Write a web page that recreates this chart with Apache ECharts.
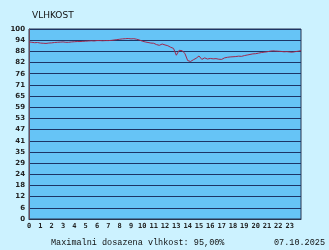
<!DOCTYPE html>
<html><head><meta charset="utf-8">
<script src="https://cdn.jsdelivr.net/npm/echarts@6/dist/echarts.min.js"></script>
<style>html,body{margin:0;padding:0;background:#ccf2ff;}#c{width:329px;height:250px;}</style>
</head><body><div id="c"></div>
<script>
var hours = [];
for (var i = 0; i <= 96; i++) hours.push(i / 4);
var humidity = [
93.2,93.0,92.8,92.9,92.6,92.5,92.4,92.6,92.7,92.9,93.0,93.1,
93.2,93.0,93.0,93.2,93.3,93.4,93.4,93.5,93.6,93.7,93.8,93.7,
93.9,93.9,93.8,93.9,93.9,94.0,94.2,94.4,94.6,94.8,94.9,95.0,
94.8,94.9,94.6,94.2,93.6,93.2,92.9,92.6,92.5,91.8,91.4,92.1,
91.6,91.2,90.4,89.8,86.2,88.8,88.6,87.2,83.4,82.9,83.8,84.6,
85.8,84.0,84.8,84.2,84.5,84.3,84.4,84.1,84.0,84.8,85.1,85.3,
85.4,85.5,85.7,85.6,86.0,86.3,86.6,86.9,87.0,87.3,87.6,87.8,
88.0,88.3,88.5,88.4,88.3,88.2,88.0,88.1,87.9,87.8,88.1,88.3,88.6];
var titleText = 'VLHKOST';
var footerText = 'Maximalni dosazena vlhkost: 95,00%';
var dateText = '07.10.2025';

var data = hours.map(function (h, i) { return [h, humidity[i]]; });
var chart = echarts.init(document.getElementById('c'));
chart.setOption({
  backgroundColor: '#ccf2ff',
  animation: false,
  title: { text: titleText, left: 27, top: 6, textStyle: { fontFamily: 'DejaVu Sans', fontSize: 9, fontWeight: 'normal', color: '#111' } },
  grid: { left: 29, right: 28, top: 29, bottom: 31, show: true, backgroundColor: '#66c4f6', borderColor: '#2a3550', borderWidth: 1 },
  xAxis: {
    type: 'value', min: 0, max: 24, interval: 1,
    axisLine: { show: true, lineStyle: { color: '#2a3550' } },
    axisTick: { show: false },
    splitLine: { show: false },
    axisLabel: { margin: 4, fontFamily: 'DejaVu Sans Mono', fontWeight: 'bold', fontSize: 7, color: '#222',
      formatter: function (v) { return v >= 24 ? '' : String(Math.round(v)); } }
  },
  yAxis: {
    type: 'value', min: 0, max: 100, interval: 100 / 17,
    axisLine: { show: true, lineStyle: { color: '#6a4a5a' } },
    axisTick: { show: false },
    splitLine: { show: true, lineStyle: { color: '#1c3566', width: 1 } },
    axisLabel: { margin: 4, fontFamily: 'DejaVu Sans', fontWeight: 'bold', fontSize: 7, color: '#222',
      formatter: function (v) { return String(Math.round(v)); } }
  },
  series: [{
    type: 'line', data: data, showSymbol: false, symbol: 'none',
    lineStyle: { color: '#a0284e', width: 1 }
  }],
  graphic: [
    { type: 'text', left: 51, top: 238, style: { text: footerText, font: '8.5px "Liberation Mono"', fill: '#111' } },
    { type: 'text', right: 4, top: 238, style: { text: dateText, font: '8.5px "Liberation Mono"', fill: '#111' } }
  ]
});
</script></body></html>
